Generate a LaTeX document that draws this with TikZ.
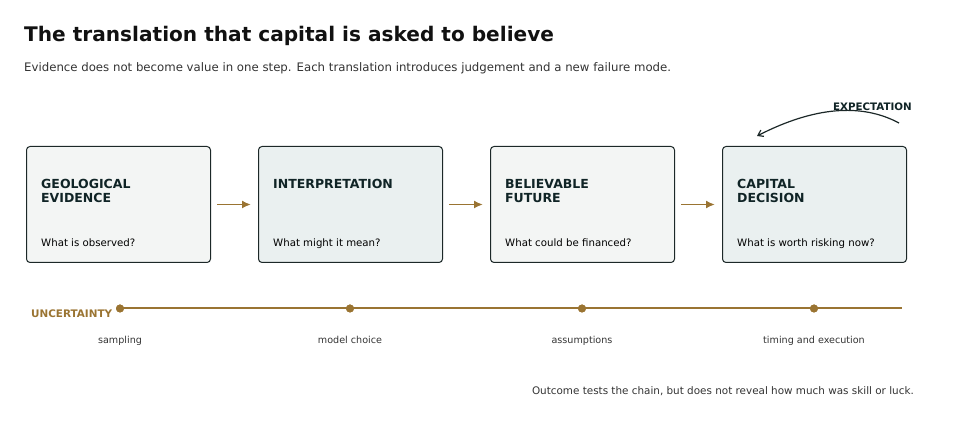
\documentclass[tikz,border=0pt]{standalone}
\usepackage{fontspec}
\setmainfont{DejaVu Sans}
\usetikzlibrary{arrows.meta}
\definecolor{gold}{RGB}{154,116,50}
\definecolor{fillA}{RGB}{243,245,244}
\definecolor{fillB}{RGB}{234,240,240}
\definecolor{edge}{RGB}{28,40,40}
\definecolor{ink}{RGB}{16,36,38}
\definecolor{sub}{RGB}{51,51,51}
\tikzset{
  stagebox/.style={draw=edge, line width=1pt, rounded corners=3.5pt, minimum width=184pt, minimum height=116pt, inner sep=0pt, anchor=north west},
  stagetitle/.style={font=\bfseries\fontsize{12.5}{14}\selectfont, text=ink, align=left, anchor=north west, inner sep=0pt},
  stageq/.style={font=\fontsize{10.2}{12}\selectfont, text=black, anchor=base west, inner sep=0pt},
  flowarrow/.style={draw=gold, line width=1.7pt, -{Latex[length=9pt,width=8pt]}},
  dotmark/.style={circle, fill=gold, minimum size=8pt, inner sep=0pt},
  tick/.style={font=\fontsize{9.6}{11}\selectfont, text=sub, anchor=base, inner sep=0pt},
}
\begin{document}
\begin{tikzpicture}[x=1pt,y=-1pt]
\useasboundingbox (0,0) rectangle (975,427);
\node[anchor=base west, inner sep=0pt, font=\bfseries\fontsize{20.1}{24}\selectfont, text={rgb,255:red,17;green,17;blue,17}] (title) at (24,42) {The translation that capital is asked to believe};
\node[anchor=base west, inner sep=0pt, font=\fontsize{11.74}{14}\selectfont, text=sub] (subtitle) at (24,72) {Evidence does not become value in one step. Each translation introduces judgement and a new failure mode.};

\node[stagebox, fill=fillA] (b1) at (26,146) {};
\node[stagebox, fill=fillB] (b2) at (258,146) {};
\node[stagebox, fill=fillA] (b3) at (490,146) {};
\node[stagebox, fill=fillB] (b4) at (722,146) {};

\node[stagetitle] (t1) at (41,179.5) {GEOLOGICAL\\EVIDENCE};
\node[stagetitle] (t2) at (273,179.5) {INTERPRETATION};
\node[stagetitle] (t3) at (505,179.5) {BELIEVABLE\\FUTURE};
\node[stagetitle] (t4) at (737,179.5) {CAPITAL\\DECISION};

\node[stageq] (q1) at (41,247) {What is observed?};
\node[stageq] (q2) at (273,247) {What might it mean?};
\node[stageq] (q3) at (505,247) {What could be financed?};
\node[stageq] (q4) at (737,247) {What is worth risking now?};

\draw[flowarrow] ([xshift=6pt]b1.east) -- ([xshift=-7pt]b2.west);
\draw[flowarrow] ([xshift=6pt]b2.east) -- ([xshift=-7pt]b3.west);
\draw[flowarrow] ([xshift=6pt]b3.east) -- ([xshift=-7pt]b4.west);

\node[anchor=base east, inner sep=0pt, font=\bfseries\fontsize{10.3}{12}\selectfont, text=ink] (exp) at (912,111) {EXPECTATION};
\coordinate (expA) at (899,123);
\coordinate (expB) at (757,136);
\draw[edge, line width=1.2pt, -{Straight Barb[length=5pt,width=7pt]}] (expA) .. controls (861,102.7) and (813.7,107) .. (expB);

\coordinate (lineEnd) at (902,308.5);
\node[dotmark] (d1) at (120,308.5) {};
\node[dotmark] (d2) at (350,308.5) {};
\node[dotmark] (d3) at (582,308.5) {};
\node[dotmark] (d4) at (814,308.5) {};
\draw[gold, line width=2pt] (d1.center) -- (lineEnd);
\node[dotmark] at (d1) {};
\node[dotmark] at (d2) {};
\node[dotmark] at (d3) {};
\node[dotmark] at (d4) {};

\node[anchor=base west, inner sep=0pt, font=\bfseries\fontsize{10.4}{12}\selectfont, text=gold] (unc) at (31,318) {UNCERTAINTY};

\node[tick] (l1) at (120,343.5) {sampling};
\node[tick] (l2) at (350,343.5) {model choice};
\node[tick] (l3) at (582,343.5) {assumptions};
\node[tick] (l4) at (814,343.5) {timing and execution};

\node[anchor=base east, inner sep=0pt, font=\fontsize{10.4}{12}\selectfont, text=sub] (foot) at (914,395) {Outcome tests the chain, but does not reveal how much was skill or luck.};
\end{tikzpicture}
\end{document}
